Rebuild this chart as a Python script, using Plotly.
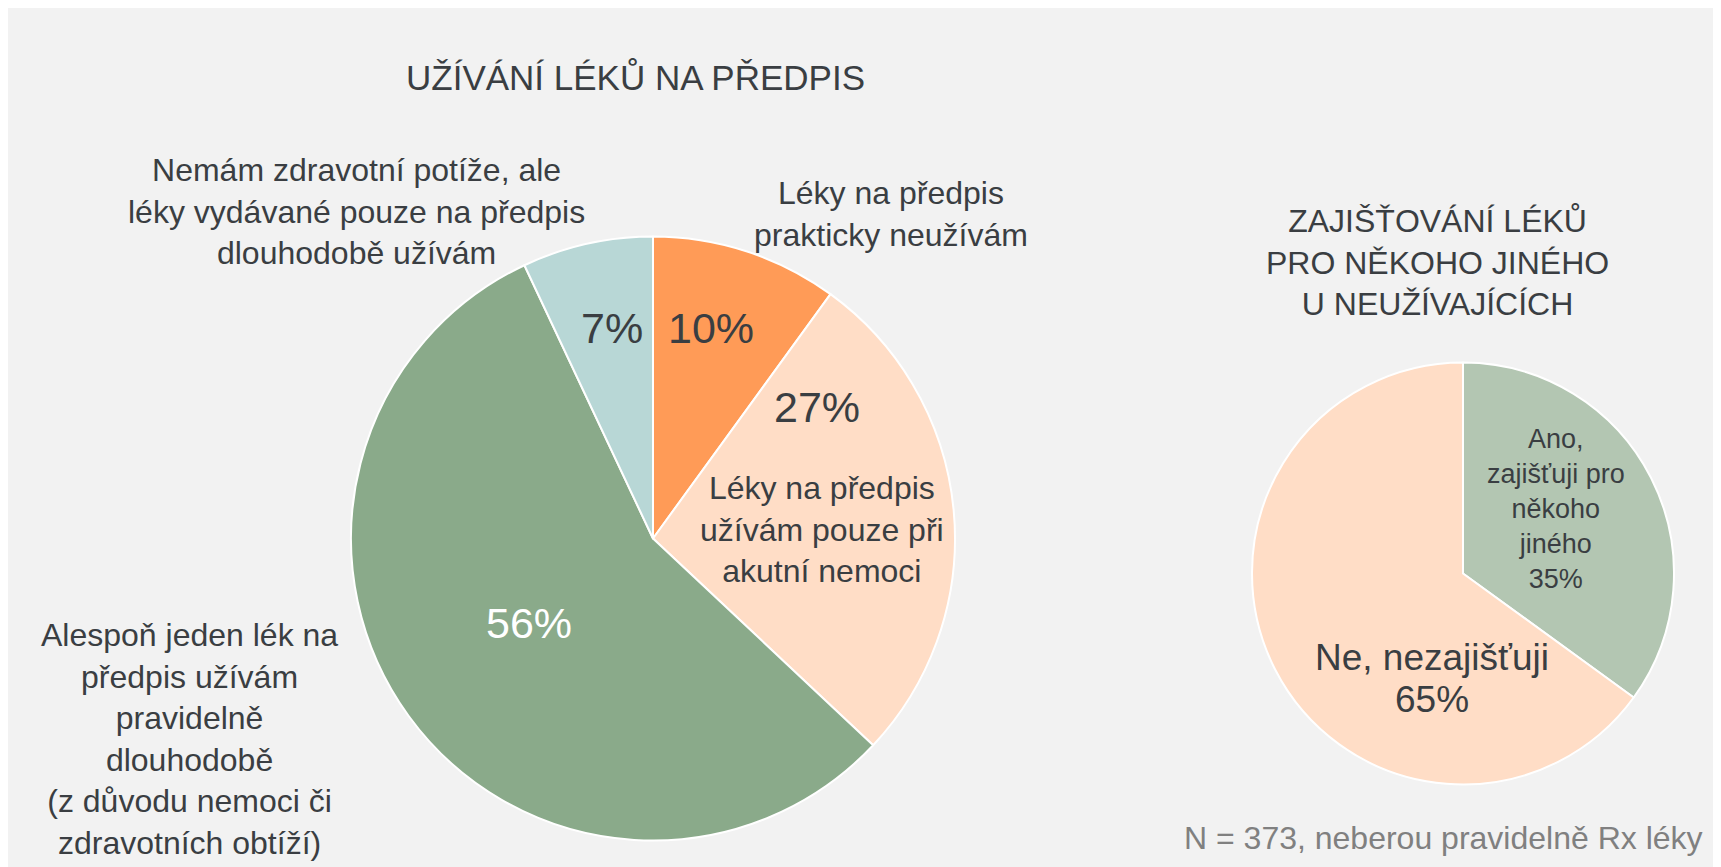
import plotly.graph_objects as go

# The page has an 8px body margin, so the figure occupies the screen from (8, 8).
OFF = 8
W, H = 1721 - OFF, 867 - OFF

# ---- data ----
use_labels = [
    "Léky na předpis<br>prakticky neužívám",
    "Léky na předpis<br>užívám pouze při<br>akutní nemoci",
    "Alespoň jeden lék na<br>předpis užívám<br>pravidelně<br>dlouhodobě<br>(z důvodu nemoci či<br>zdravotních obtíží)",
    "Nemám zdravotní potíže, ale<br>léky vydávané pouze na předpis<br>dlouhodobě užívám",
]
use_values = [10, 27, 56, 7]
use_colors = ["#FF9B57", "#FFDDC6", "#8AAA8A", "#B8D7D6"]

supply_labels = ["Ano,<br>zajišťuji pro<br>někoho<br>jiného", "Ne, nezajišťuji"]
supply_values = [35, 65]
supply_colors = ["#B3C6B2", "#FFDDC6"]

title_left = "UŽÍVÁNÍ LÉKŮ NA PŘEDPIS"
title_right = "ZAJIŠŤOVÁNÍ LÉKŮ<br>PRO NĚKOHO JINÉHO<br>U NEUŽÍVAJÍCÍCH"
note = "N = 373, neberou pravidelně Rx léky"

TEXT = "#3A3E42"
FONT = "Liberation Sans, Arial, sans-serif"


def px(x, y):
    # screen coordinates -> paper coordinates
    return (x - OFF) / W, 1 - (y - OFF) / H


def dom(cx, cy, r):
    cx, cy = cx - OFF, cy - OFF
    return dict(x=[(cx - r) / W, (cx + r) / W], y=[(H - cy - r) / H, (H - cy + r) / H])


fig = go.Figure()
fig.add_trace(go.Pie(
    values=use_values, labels=use_labels, sort=False, direction="clockwise", rotation=0,
    marker=dict(colors=use_colors, line=dict(color="white", width=2)),
    textinfo="none", hoverinfo="label+percent", showlegend=False,
    domain=dom(653, 538.5, 302),
))
fig.add_trace(go.Pie(
    values=supply_values, labels=supply_labels, sort=False, direction="clockwise", rotation=0,
    marker=dict(colors=supply_colors, line=dict(color="white", width=2)),
    textinfo="none", hoverinfo="label+percent", showlegend=False,
    domain=dom(1463, 573.5, 211),
))

ann = []


def add(text, x, y, size, color=TEXT):
    xx, yy = px(x, y)
    ann.append(dict(text=text, x=xx, y=yy, xref="paper", yref="paper", xanchor="center",
                    yanchor="middle", showarrow=False, align="center",
                    font=dict(family=FONT, size=size, color=color)))


pct = [f"{v}%" for v in use_values]
# percentages in left pie
add(pct[0], 711, 328, 43)
add(pct[1], 817, 407, 43)
add(pct[2], 529, 623, 43, "white")
add(pct[3], 612, 328, 43)
# category labels left pie
add(use_labels[0], 891, 214, 32)
add(use_labels[1], 822, 529, 32)
add(use_labels[2], 189, 739, 32)
add(use_labels[3], 356, 211, 32)

# right pie
add(supply_labels[0] + "<br>" + f"{supply_values[0]}%", 1556, 509, 27)
add(supply_labels[1], 1432, 657, 37)
add(f"{supply_values[1]}%", 1432, 699, 37)

# titles and note
add(title_left, 635, 77, 35)
add(title_right, 1437, 262, 32)
add(note, 1443, 838, 32, "#808080")

fig.update_layout(
    width=W, height=H,
    margin=dict(l=0, r=0, t=0, b=0),
    paper_bgcolor="#F2F2F2", plot_bgcolor="#F2F2F2",
    annotations=ann,
    font=dict(family=FONT, color=TEXT),
)

fig.write_html("out.html")
